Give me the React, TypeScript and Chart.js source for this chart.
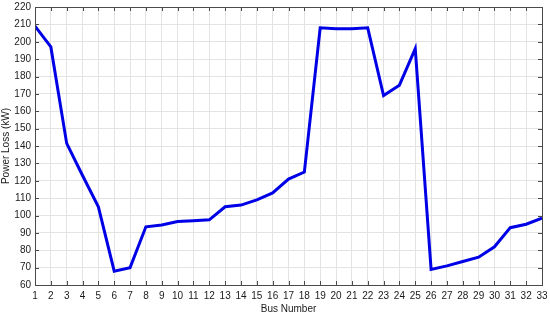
import React, { useEffect, useRef } from "react";
import { Chart, registerables } from "chart.js";

Chart.register(...registerables);

const busNumbers = [1,2,3,4,5,6,7,8,9,10,11,12,13,14,15,16,17,18,19,20,21,22,23,24,25,26,27,28,29,30,31,32,33];
const powerLoss = [209,197,141.5,123,105,68,70,93.5,94.5,96.5,97,97.5,105,106,109,113,121,125,208,207.5,207.5,208,169,175,196,69,71,73.5,76,82,93,95,98.5];
const yMin = 60;
const yMax = 220;
const yStep = 10;
const xTitle = "Bus Number";
const yTitle = "Power Loss (kW)";

const FONT = "'Liberation Sans', Arial, sans-serif";

const frameTicks = {
  id: "frameTicks",
  afterDatasetsDraw(chart: any) {
    const { ctx, chartArea: a, scales } = chart;
    ctx.save();
    ctx.strokeStyle = "#4a4a4a";
    ctx.lineWidth = 1;
    ctx.strokeRect(Math.round(a.left) + 0.5, Math.round(a.top) + 0.5, Math.round(a.right - a.left), Math.round(a.bottom - a.top));
    const L = 4;
    ctx.beginPath();
    scales.x.ticks.forEach((t: any) => {
      const px = Math.round(scales.x.getPixelForValue(t.value)) + 0.5;
      ctx.moveTo(px, a.bottom);
      ctx.lineTo(px, a.bottom - L);
      ctx.moveTo(px, a.top);
      ctx.lineTo(px, a.top + L);
    });
    scales.y.ticks.forEach((t: any) => {
      const py = Math.round(scales.y.getPixelForValue(t.value)) + 0.5;
      ctx.moveTo(a.left, py);
      ctx.lineTo(a.left + L, py);
      ctx.moveTo(a.right, py);
      ctx.lineTo(a.right - L, py);
    });
    ctx.stroke();
    ctx.restore();
  },
};

export default function App() {
  const ref = useRef<HTMLCanvasElement | null>(null);
  useEffect(() => {
    if (!ref.current) return;
    const chart = new Chart(ref.current, {
      type: "line",
      data: {
        datasets: [
          {
            data: busNumbers.map((b, i) => ({ x: b, y: powerLoss[i] })),
            borderColor: "#0000e6",
            borderWidth: 3,
            pointRadius: 0,
            tension: 0,
            fill: false,
          },
        ],
      },
      options: {
        responsive: false,
        animation: false,
        layout: { padding: { left: 0, right: 8, top: 7, bottom: 0 } },
        plugins: { legend: { display: false }, tooltip: { enabled: false } },
        scales: {
          x: {
            type: "linear",
            min: 1,
            max: 33,
            afterFit(scale: any) {
              scale.height = 31;
              scale.paddingRight = 0;
              scale.paddingLeft = 0;
            },
            ticks: {
              stepSize: 1,
              autoSkip: false,
              maxRotation: 0,
              padding: 5,
              color: "#1a1a1a",
              font: { family: FONT, size: 10 },
            },
            grid: { color: "#e3e3e3", drawTicks: false, lineWidth: 1 },
            border: { display: false },
            title: {
              display: true,
              text: xTitle,
              color: "#1a1a1a",
              font: { family: FONT, size: 10 },
              padding: { top: 1, bottom: 1 },
            },
          },
          y: {
            min: yMin,
            max: yMax,
            afterFit(scale: any) {
              scale.width = 35;
              scale.paddingTop = 0;
              scale.paddingBottom = 0;
            },
            ticks: {
              stepSize: yStep,
              padding: 4,
              color: "#1a1a1a",
              font: { family: FONT, size: 10 },
            },
            grid: { color: "#e3e3e3", drawTicks: false, lineWidth: 1 },
            border: { display: false },
            title: {
              display: true,
              text: yTitle,
              color: "#1a1a1a",
              font: { family: FONT, size: 10 },
              padding: { top: 0, bottom: 0 },
            },
          },
        },
      },
      plugins: [frameTicks],
    } as any);
    return () => chart.destroy();
  }, []);
  return (
    <div style={{ position: "fixed", left: 0, top: 0, width: 550, height: 316, background: "#fff" }}>
      <canvas ref={ref} width={550} height={316} style={{ width: 550, height: 316 }} />
    </div>
  );
}
